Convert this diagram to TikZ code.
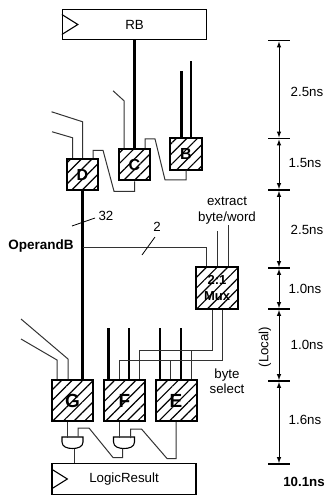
\documentclass[tikz,border=0pt]{standalone}
\usepackage{fontspec}
\setmainfont{Liberation Sans}
\usetikzlibrary{patterns.meta}
\tikzset{
    wire/.style={line width=1pt,black!80},
    bus/.style={line width=2.1pt},
    regbox/.style={draw,line width=1.3pt,inner sep=0pt,minimum height=30.5pt,minimum width=144pt},
    hatchbox/.style={draw,line width=2pt,inner sep=0pt,minimum size=#1,
        pattern={Lines[angle=45,distance=7.5pt,line width=1.2pt]}},
    dimline/.style={latex-latex,line width=1pt,shorten >=1pt,shorten <=1pt},
    txt/.style={inner sep=0pt,align=center,font=\fontsize{13.3}{15.5}\selectfont},
}
\begin{document}
\begin{tikzpicture}[x=1pt,y=-1pt]
        \useasboundingbox (0,0) rectangle (325,495);
        % registers
        \node[regbox,txt] (RB) at (134.5,24.5) {RB};
        \node[regbox,txt] (LogicResult) at (124,479) {LogicResult};
        \foreach \r in {RB,LogicResult}{\draw[line width=1.1pt] (\r.west) ++(0,-10) -- ++(16,10) -- ++(-16,10);}
        % first row of cells
        \node[hatchbox=31.5pt,font=\fontsize{16}{16}\selectfont\bfseries] (B) at (186,154) {B};
        \node[hatchbox=31.5pt,font=\fontsize{16}{16}\selectfont\bfseries] (C) at (134.5,164.5) {C};
        \node[hatchbox=31.5pt,font=\fontsize{16}{16}\selectfont\bfseries] (D) at (82.5,174.5) {D};
        \node[hatchbox=42pt,align=center,font=\fontsize{13}{16}\selectfont\bfseries] (Mux) at (217,288) {2:1\\Mux};
        % second row of cells
        \node[hatchbox=41pt,font=\fontsize{19}{19}\selectfont\bfseries] (G) at (72.5,400.5) {G};
        \node[hatchbox=41pt,font=\fontsize{19}{19}\selectfont\bfseries] (F) at (124.5,400.5) {F};
        \node[hatchbox=41pt,font=\fontsize{19}{19}\selectfont\bfseries] (E) at (176,400.5) {E};
        % buses
        \draw[bus] (RB.south) -- (C.north);
        \draw[bus] ([xshift=-4.5]B.north) -- ++(0,-67);
        \draw[bus] ([xshift=5]B.north) -- ++(0,-77);
        \draw[bus] (D.south) -- (D.south |- G.north);
        \foreach \n/\d in {F/-16,F/4.5,E/-16,E/5}{\draw[bus] ([xshift=\d]\n.north) -- ++(0,-51);}
        % free inputs
        \draw[wire] ([xshift=-10.5]C.north) -- ++(0,-47) -- ++(-11,-10);
        \draw[wire] (D.north) -- ++(0,-36) -- ++(-31,-10);
        \draw[wire] ([xshift=-10]D.north) -- ++(0,-20) -- ++(-20.5,-6);
        \draw[wire] ([xshift=-4.5]G.north) -- ++(0,-20) -- ++(-47,-40);
        \draw[wire] ([xshift=-15.5]G.north) -- ++(0,-19) -- ++(-36,-21);
        % carries between cells
        \draw[wire] (B.south) -- ++(0,9.5) -- ++(-21,0) -- ++(-10,-41) -- ++(-10,0) -- ([xshift=10.5]C.north);
        \draw[wire] (C.south) -- ++(0,10) -- ++(-20.5,0) -- ++(-11,-41) -- ++(-10,0) -- ([xshift=10.5]D.north);
        % OperandB branch
        \coordinate (tap) at (83,247);
        \draw[wire] (tap) -| ([xshift=-11]Mux.north);
        \coordinate (slashA) at (72,226);
        \coordinate (slashAend) at (95,218);
        \coordinate (slashB) at (142,255);
        \coordinate (slashBend) at (155,237);
        \draw[line width=0.8pt] (slashA) -- (slashAend);
        \draw[line width=0.8pt] (slashB) -- (slashBend);
        \node[txt] (width32) at (106,216) {32};
        \node[txt] (width2) at (157,227) {2};
        \node[txt,font=\fontsize{13.5}{15}\selectfont\bfseries] (OperandB) at (41,246) {OperandB};
        % mux controls and select lines
        \draw[wire] (Mux.north) -- ++(0,-35);
        \draw[wire] ([xshift=11]Mux.north) -- ++(0,-41);
        \node[txt] (extract) at (227,210.5) {extract\\byte/word};
        \coordinate (selA) at (212,350);
        \coordinate (selB) at (222,360);
        \draw[wire] ([xshift=-5]Mux.south) -- (selA) -| ([xshift=15]F.north);
        \draw[wire] ([xshift=5]Mux.south) -- (selB) -| ([xshift=-5.5]F.north);
        \draw[wire] (selA -| E.north) ++(15,0) -- ([xshift=15]E.north);
        \draw[wire] (selB -| E.north) ++(-6,0) -- ([xshift=-6]E.north);
        \node[txt] (select) at (227,381) {byte\\select};
        % gates
        \foreach \g/\x in {gateA/72.5,gateB/124}{
            \coordinate (\g) at (\x,437);
            \draw[line width=1.1pt] (\g) ++(-10.5,0) -- ++(21,0) -- ++(0,5) .. controls +(0,5) and +(5,0) .. ++(-10.5,6.5)
                .. controls +(-5,0) and +(0,5) .. ++(-10.5,-6.5) -- cycle;
        }
        \draw[wire] ([xshift=-5]G.south) -- ++(0,16);
        \draw[wire] ([xshift=-5.5]F.south) -- ++(0,16);
        \coordinate (gateAout) at (74,448.5);
        \coordinate (gateBout) at (122.5,448.5);
        \draw[wire] (gateAout) -- (gateAout |- LogicResult.north);
        \draw[wire] (gateBout) -- ++(0,9) -- ++(-9.5,0) -- ++(-24,-29.5) -- ++(-11,0) -- ++(0,8.5);
        \draw[wire] (E.south) -- ++(0,36.5) -- ++(-9,0) -- ++(-25.5,-29.5) -- ++(-11,0) -- ++(0,9);
        % timing scale
        \foreach \n/\y in {t0/40.5,t1/138.5,t2/190,t3/268,t4/309,t5/381,t6/464}{
            \coordinate (\n) at (279,\y);
            \draw[line width=1.1pt] (\n) ++(-11,0) -- ++(22,0);
        }
        \foreach \a/\b in {t0/t1,t1/t2,t2/t3,t3/t4,t4/t5,t5/t6}{\draw[dimline] (\a) -- (\b);}
        \foreach \n/\x/\y/\s in {a/307/92/2.5ns,b/305/163/1.5ns,c/307/230/2.5ns,d/305/289/1.0ns,e/307/345/1.0ns,f/305/420/1.6ns}{
            \node[txt] (lab\n) at (\x,\y) {\s};
        }
        \node[txt,font=\fontsize{13.3}{15}\selectfont\bfseries] (total) at (304,482) {10.1ns};
        \node[txt,rotate=90] (local) at (265,347) {(Local)};
\end{tikzpicture}
\end{document}
